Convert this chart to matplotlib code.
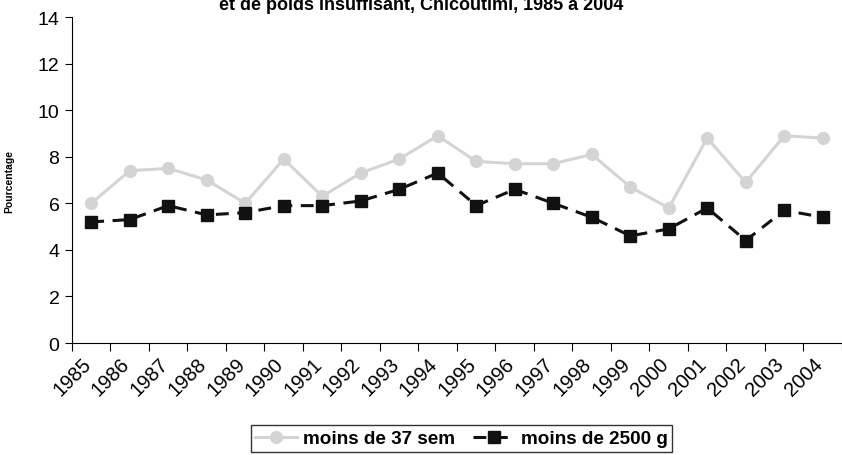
import matplotlib
matplotlib.use("Agg")
import matplotlib.pyplot as plt
import matplotlib.transforms as mtransforms
import numpy as np

plt.rcParams["font.family"] = ["Liberation Sans", "DejaVu Sans"]

annees = [str(a) for a in range(1985, 2005)]
moins_37_sem = [6.0, 7.4, 7.5, 7.0, 6.0, 7.9, 6.3, 7.3, 7.9, 8.9,
                7.8, 7.7, 7.7, 8.1, 6.7, 5.8, 8.8, 6.9, 8.9, 8.8]
moins_2500_g = [5.2, 5.3, 5.9, 5.5, 5.6, 5.9, 5.9, 6.1, 6.6, 7.3,
                5.9, 6.6, 6.0, 5.4, 4.6, 4.9, 5.8, 4.4, 5.7, 5.4]

fig = plt.figure(figsize=(8.42, 4.56), dpi=100)
ax = fig.add_axes([0.0855, 0.2456, 0.9145, 0.7149])

x = np.arange(len(annees))
ax.plot(x, moins_37_sem, "-o", color="#d4d4d4", lw=2.2, ms=8.5,
        label="moins de 37 sem")
ax.plot(x, moins_2500_g, "--s", color="#111111", lw=2.2, ms=8.5,
        dashes=(4.2, 2.8), label="moins de 2500 g")

ax.set_xlim(-0.5, len(annees) - 0.5)
ax.set_ylim(0, 14)
ax.set_yticks(range(0, 15, 2))
ax.tick_params(axis="y", labelsize=14, length=5, direction="out", pad=4)

# traits aux limites des catégories, étiquettes au centre
ax.set_xticks(np.arange(-0.5, len(annees), 1.0))
ax.set_xticklabels([])
ax.tick_params(axis="x", which="major", length=6)
ax.set_xticks(x, minor=True)
ax.set_xticklabels(annees, minor=True, rotation=45, ha="right",
                   rotation_mode="anchor", fontsize=14.5)
ax.tick_params(axis="x", which="minor", length=0, pad=8)
decalage = mtransforms.ScaledTranslation(-10 / 100, 0, fig.dpi_scale_trans)
for lab in ax.get_xticklabels(minor=True):
    lab.set_transform(lab.get_transform() + decalage)

ax.spines["top"].set_visible(False)
ax.spines["right"].set_visible(False)

ax.set_ylabel("Pourcentage", fontsize=7.5, fontweight="bold", labelpad=17)

fig.text(0.5, 1 - 10 / 456, "et de poids insuffisant, Chicoutimi, 1985 à 2004",
         ha="center", va="baseline", fontsize=13, fontweight="bold")

leg = fig.legend(loc="center", bbox_to_anchor=(0.548, 0.036), ncol=2,
                 frameon=True, fancybox=False, edgecolor="black",
                 prop={"weight": "bold", "size": 13.6}, handlelength=2.2,
                 handletextpad=0.3, columnspacing=1.0, borderpad=0.25,
                 borderaxespad=0)
leg.get_frame().set_linewidth(1)

fig.savefig("out.png", dpi=100)
